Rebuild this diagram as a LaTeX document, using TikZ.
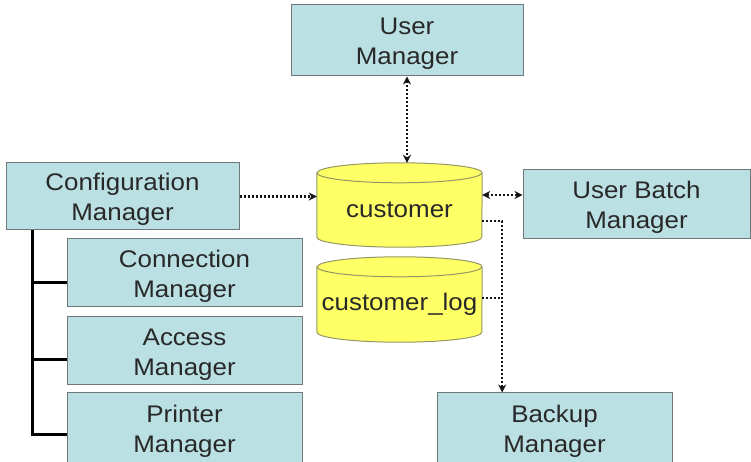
\documentclass[tikz,border=0pt]{standalone}
\usepackage{fontspec}
\setmainfont{Liberation Sans}[FakeStretch=1.08]
\usetikzlibrary{arrows.meta,calc,backgrounds}
\definecolor{boxfill}{RGB}{187,224,227}
\definecolor{boxline}{RGB}{110,120,120}
\definecolor{dbfill}{RGB}{255,255,102}
\definecolor{dbline}{RGB}{150,150,100}
\definecolor{txt}{RGB}{40,40,40}
\definecolor{conn}{RGB}{20,20,20}
\newcommand{\twolines}[2]{\raisebox{-3.5pt}[\height][\depth]{\begin{tabular}{@{}c@{}}#1\\#2\end{tabular}}}
\newcommand{\lowered}[1]{\raisebox{-5pt}[\height][\depth]{#1}}
\tikzset{
  mgr/.style={draw=boxline, fill=boxfill, line width=1pt, inner sep=0pt,
    font=\fontsize{24}{30}\selectfont, text=txt},
  db/.style={inner sep=0pt, minimum width=165pt, font=\fontsize{24}{30}\selectfont, text=txt},
  cylbody/.style={fill=dbfill, draw=dbline, line width=1pt},
  dotline/.style={draw=conn, line width=2.5pt, dash pattern=on 2pt off 2pt},
  tip/.style={-{Stealth[length=8pt,width=8pt]}},
  tips/.style={{Stealth[length=8pt,width=8pt]}-{Stealth[length=8pt,width=8pt]}},
  tree/.style={draw=black, line width=3pt}
}
\newcommand{\cylfor}[1]{%
  \path[cylbody] ($(#1.north west)+(0,-10)$) -- ($(#1.south west)+(0,10)$)
    arc[start angle=180,end angle=360,x radius=82.5pt,y radius=10pt]
    -- ($(#1.north east)+(0,-10)$)
    arc[start angle=0,end angle=180,x radius=82.5pt,y radius=10pt] -- cycle;
  \draw[dbline, line width=1pt] ($(#1.north west)+(0,-10)$)
    arc[start angle=180,end angle=360,x radius=82.5pt,y radius=10pt];}
\begin{document}
\begin{tikzpicture}[x=1pt,y=1pt]
\useasboundingbox (0,0) rectangle (751,462);
\node[mgr, minimum width=232pt, minimum height=71pt] (um) at (407,421.5) {\twolines{User}{Manager}};
\node[mgr, minimum width=233pt, minimum height=67pt] (cfg) at (122.5,265.5) {\twolines{Configuration}{Manager}};
\node[mgr, minimum width=235pt, minimum height=68pt] (cm) at (184.5,189) {\twolines{Connection}{Manager}};
\node[mgr, minimum width=235pt, minimum height=68pt] (am) at (184.5,111) {\twolines{Access}{Manager}};
\node[mgr, minimum width=235pt, minimum height=70pt] (pm) at (184.5,34) {\twolines{Printer}{Manager}};
\node[mgr, minimum width=227pt, minimum height=69pt] (ubm) at (636.5,257.5) {\twolines{User Batch}{Manager}};
\node[mgr, minimum width=235pt, minimum height=70pt] (bk) at (554.5,34) {\twolines{Backup}{Manager}};
\node[db, minimum height=84pt] (cust) at (399.5,257) {\lowered{customer}};
\node[db, minimum height=85pt] (log) at (399.5,162.5) {\lowered{customer\_log}};
\begin{pgfonlayer}{background}
\cylfor{cust}
\cylfor{log}
\end{pgfonlayer}
% connectors
\draw[dotline, tips] (um.south) -- (um.south |- cust.north);
\draw[dotline, tip] (cfg.east) -- (cfg.east -| cust.west);
\coordinate (ra) at ($(cust.east)+(0,10)$);
\draw[dotline, tips] (ra) -- (ra -| ubm.west);
\coordinate (rb) at ($(cust.east)+(0,-16)$);
\coordinate (j) at ($(rb)+(20,0)$);
\draw[dotline, tip] (rb) -- (j) -- (j |- bk.north);
\coordinate (lg) at ($(log.east)+(0,1.5)$);
\draw[dotline] (lg) -- (lg -| j);
% tree
\coordinate (t) at ($(cfg.south west)+(27,0)$);
\coordinate (b1) at ($(cm.west)+(0,-10)$);
\coordinate (b2) at ($(am.west)+(0,-9)$);
\coordinate (b3) at ($(pm.west)+(0,-7)$);
\draw[tree] (t) -- (t |- b3) -- (b3);
\draw[tree] (t |- b1) -- (b1);
\draw[tree] (t |- b2) -- (b2);
\end{tikzpicture}
\end{document}
